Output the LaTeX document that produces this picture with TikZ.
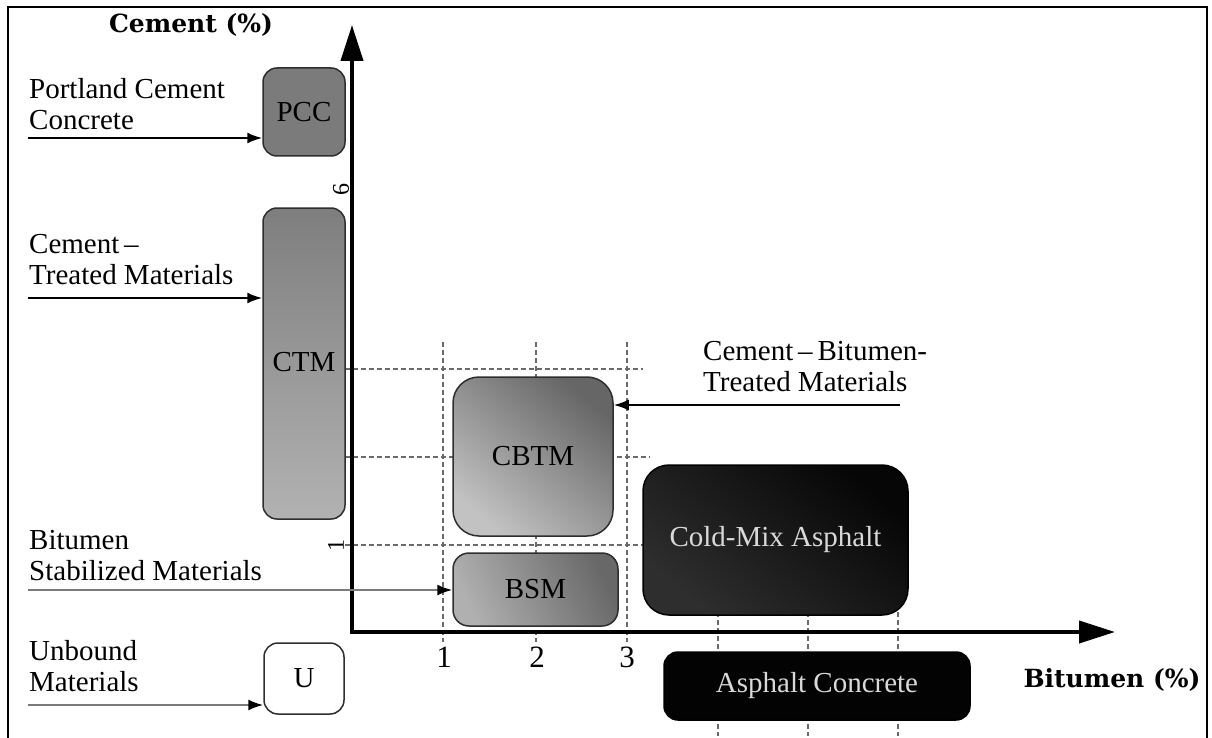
\documentclass[tikz,border=0pt]{standalone}
\usepackage{fontspec}
\setmainfont{Liberation Serif}
\newfontfamily\axisfont{DejaVu Serif}
\usetikzlibrary{arrows.meta}
\definecolor{pccgray}{HTML}{7B7B7B}
\definecolor{ctmtop}{HTML}{7E7E7E}
\definecolor{ctmbot}{HTML}{B2B2B2}
\definecolor{cbdark}{HTML}{666666}
\definecolor{cblight}{HTML}{C2C2C2}
\definecolor{bsdark}{HTML}{686868}
\definecolor{bslight}{HTML}{B0B0B0}
\definecolor{cmdark}{HTML}{060606}
\definecolor{cmlight}{HTML}{2E2E2E}
\definecolor{acblack}{HTML}{030303}
\definecolor{edgegray}{HTML}{2E2E2E}
\definecolor{gridgray}{HTML}{6A6A6A}
\definecolor{lightline}{HTML}{7A7A7A}
\begin{document}
\begin{tikzpicture}[x=1pt,y=-1pt,
  every node/.style={font=\fontsize{29}{31}\selectfont},
  matbox/.style={draw=edgegray, line width=1.5pt, rounded corners=14pt, inner sep=0pt},
  leftlabel/.style={anchor=west, align=left, inner sep=0pt, font=\fontsize{29}{31}\selectfont},
  pointer/.style={line width=2pt, -{Latex[length=15pt,width=11pt,black]}},
  gridline/.style={gridgray, line width=1.2pt, dash pattern=on 5pt off 3pt},
  axisline/.style={line width=4pt, -{Triangle[length=36pt,width=22pt]}},
  axislabel/.style={inner sep=0pt, font=\axisfont\bfseries\fontsize{25}{28}\selectfont},
  ticklabel/.style={inner sep=0pt, font=\fontsize{31}{32}\selectfont}
]
\useasboundingbox (0,0) rectangle (1212,738);
% frame
\draw[line width=2pt] (8,738) -- (8,7) -- (1207,7) -- (1207,738);

% grid lines (dashed)
\foreach \xx in {443,536,627}{
  \draw[gridline] (\xx,342) -- (\xx,642);
}
\foreach \xx in {718,808,898}{
  \draw[gridline] (\xx,612) -- (\xx,736);
}
\draw[gridline] (345,369) -- (643,369);
\draw[gridline] (345,457) -- (650,457);
\draw[gridline] (345,545) -- (650,545);

% boxes
\node[matbox, fill=pccgray, minimum width=82pt, minimum height=88pt] (PCC) at (304,112) {PCC};
\node[matbox, top color=ctmtop, bottom color=ctmbot, minimum width=82pt, minimum height=311pt] (CTM) at (304,363.5) {};
\node at (304,362) {CTM};
\node[matbox, fill=white, minimum width=80pt, minimum height=71pt] (U) at (304,678.5) {U};
\node[matbox, rounded corners=26pt, top color=cbdark, bottom color=cblight, shading angle=-40, minimum width=160pt, minimum height=159pt] (CBTM) at (533,456.5) {CBTM};
\node[matbox, rounded corners=16pt, top color=bsdark, bottom color=bslight, shading angle=-65, minimum width=165pt, minimum height=73pt] (BSM) at (535.5,589.5) {BSM};
\node[matbox, draw=black, rounded corners=26pt, top color=cmdark, bottom color=cmlight, shading angle=-40, minimum width=265pt, minimum height=150pt, text=white!85!black] (CMA) at (775.5,540) {Cold-Mix Asphalt};
\node[matbox, draw=black, rounded corners=14pt, fill=acblack, minimum width=306pt, minimum height=68pt, text=white!85!black] (AC) at (817,686) {Asphalt Concrete};

% axes
\coordinate (O) at (352,632);
\coordinate (Ytip) at (352,25);
\coordinate (Xtip) at (1115,632);
\draw[axisline] ([yshift=2pt]O) -- (Ytip);
\draw[axisline] ([xshift=-2pt]O) -- (Xtip);

% tick labels
\node[ticklabel] (t1) at (444,657) {1};
\node[ticklabel] (t2) at (537,657) {2};
\node[ticklabel] (t3) at (627,657) {3};
\node[ticklabel, rotate=90, font=\fontsize{24}{26}\selectfont] (t6) at (341,190) {6};
\node[ticklabel, rotate=90, font=\fontsize{24}{26}\selectfont] (tone) at (336,545) {1};

% axis labels
\node[axislabel] (ylab) at (191,25) {Cement (\%)};
\node[axislabel] (xlab) at (1112,680) {Bitumen (\%)};

% left labels
\node[leftlabel] (lPCC) at (29,104) {Portland Cement\\Concrete};
\node[leftlabel] (lCTM) at (29,260) {Cement\,–\\Treated Materials};
\node[leftlabel] (lBSM) at (29,556) {Bitumen\\Stabilized Materials};
\node[leftlabel] (lU) at (29,666) {Unbound\\Materials};
\node[leftlabel] (lCBTM) at (703,367) {Cement\,–\,Bitumen-\\Treated Materials};

% pointers
\coordinate (sPCC) at (28,138);
\coordinate (sCTM) at (28,298);
\coordinate (sBSM) at (28,590);
\coordinate (sU) at (28,705);
\coordinate (sCBTM) at (900,405);
\draw[pointer] (sPCC) -- (sPCC -| PCC.west);
\draw[pointer] (sCTM) -- (sCTM -| CTM.west);
\draw[pointer, draw=lightline] (sBSM) -- (sBSM -| BSM.west);
\draw[pointer, draw=lightline] (sU) -- (sU -| U.west);
\draw[pointer] (sCBTM) -- (sCBTM -| CBTM.east);
\end{tikzpicture}
\end{document}
